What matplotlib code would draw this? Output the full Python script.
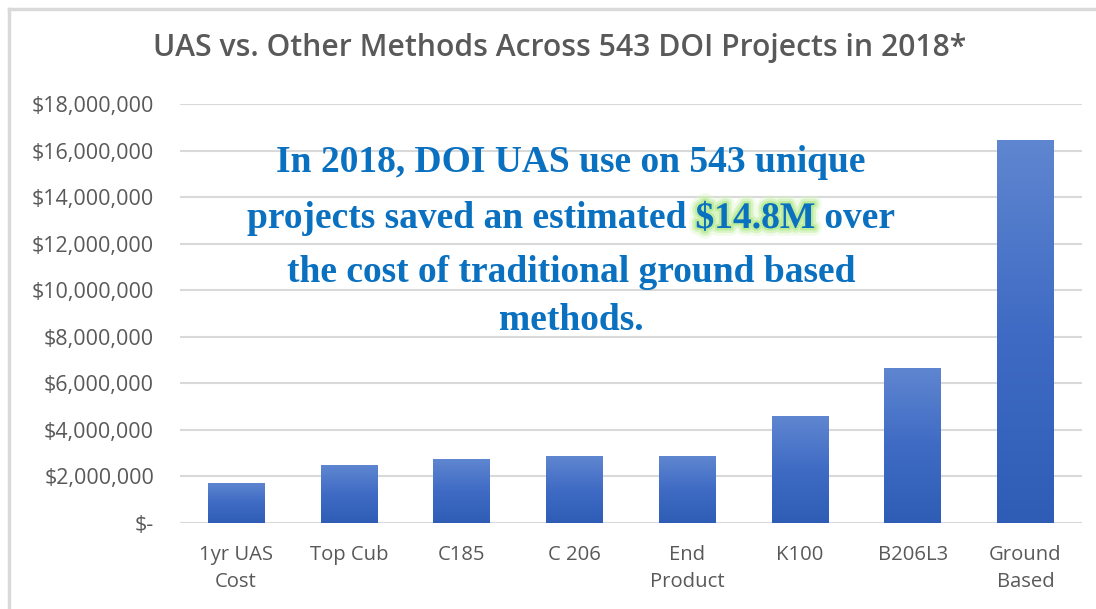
import numpy as np
import matplotlib.pyplot as plt
import matplotlib.patheffects as pe
from matplotlib.colors import LinearSegmentedColormap
from matplotlib.ticker import FuncFormatter
from matplotlib.lines import Line2D

categories = ['1yr UAS\nCost', 'Top Cub', 'C185', 'C 206', 'End\nProduct', 'K100', 'B206L3', 'Ground\nBased']
costs = [1720000, 2480000, 2750000, 2860000, 2860000, 4570000, 6670000, 16470000]
yticks = np.arange(0, 18000001, 2000000)

title = 'UAS vs. Other Methods Across 543 DOI Projects in 2018*'
note_lines = ['In 2018, DOI UAS use on 543 unique',
              ['projects saved an estimated ', '$14.8M', ' over'],
              'the cost of traditional ground based',
              'methods.']

grey = '#595959'
blue_txt = '#0a70c0'

fig = plt.figure(figsize=(10.96, 6.09), dpi=100)
ax = fig.add_axes([0.164, 0.1417, 0.823, 0.6875])

x = np.arange(len(categories))
bars = ax.bar(x, costs, width=0.5, color='#4472c4', zorder=2)

# vertical gradient on each bar
cmap = LinearSegmentedColormap.from_list('bar', ['#2f5db5', '#3f6bc4', '#5f86d0'])
grad = np.linspace(0, 1, 256).reshape(-1, 1)
for b in bars:
    x0, y0 = b.get_x(), b.get_y()
    w, h = b.get_width(), b.get_height()
    im = ax.imshow(grad, cmap=cmap, origin='lower', aspect='auto',
                   extent=[x0, x0 + w, y0, y0 + h], zorder=3)
    im.set_clip_path(b)

ax.set_xlim(-0.5, len(categories) - 0.5)
ax.set_ylim(0, 18000000)
ax.set_yticks(yticks)
ax.yaxis.set_major_formatter(FuncFormatter(lambda v, p: '$-' if v == 0 else '${:,.0f}'.format(v)))
ax.set_xticks(x)
ax.set_xticklabels(categories, linespacing=1.5)
ax.grid(axis='y', color='#d9d9d9', linewidth=1.5, zorder=0)
for s in ax.spines.values():
    s.set_visible(False)
ax.tick_params(length=0, colors=grey)
ax.tick_params(axis='y', pad=18.5, labelsize=15.5)
ax.tick_params(axis='x', pad=16, labelsize=14.6)
for lab in ax.get_xticklabels() + ax.get_yticklabels():
    lab.set_fontfamily('Open Sans')
    lab.set_color(grey)

fig.text(0.511, 0.921, title, ha='center', va='center', fontsize=21.7,
         color=grey, fontfamily='Open Sans', fontweight='semibold')

# frame lines (top and left edges of the chart box)
fx, fy = 8.5 / 1096, 1 - 8.5 / 609
fig.add_artist(Line2D([fx, 1], [fy, fy], transform=fig.transFigure, color='#d9d9d9', linewidth=2.5))
fig.add_artist(Line2D([fx, fx], [0, fy], transform=fig.transFigure, color='#d9d9d9', linewidth=2.5))

# annotation text
fs = 27
tkw = dict(fontsize=fs, fontweight='bold', fontfamily='Liberation Serif', color=blue_txt, va='baseline')
cx = 571 / 1096
line_y = [609 - 172, 609 - 228, 609 - 282, 609 - 330]
renderer = fig.canvas.get_renderer()
glow = [pe.Stroke(linewidth=11, foreground='#d8f5c0', alpha=0.35),
        pe.Stroke(linewidth=7, foreground='#c6efa6', alpha=0.55),
        pe.Stroke(linewidth=3.5, foreground='#b8ea94', alpha=0.8),
        pe.Normal()]
for line, yp in zip(note_lines, line_y):
    yf = yp / 609
    if isinstance(line, str):
        fig.text(cx, yf, line, ha='center', **tkw)
    else:
        parts = [fig.text(0, yf, s, ha='left', **tkw) for s in line]
        mid_w = parts[1].get_window_extent(renderer).width / fig.bbox.width
        full = fig.text(0, yf, ''.join(line), ha='left', **tkw)
        total = full.get_window_extent(renderer).width / fig.bbox.width
        full.remove()
        w0 = fig.text(0, yf, line[0] + line[1], ha='left', **tkw)
        w01 = w0.get_window_extent(renderer).width / fig.bbox.width
        w0.remove()
        left = cx - total / 2
        parts[0].set_x(left)
        parts[1].set_x(left + w01 - mid_w)
        parts[2].set_x(left + w01)
        parts[1].set_path_effects(glow)
        parts[1].set_zorder(5)

fig.savefig('out.png', dpi=100)
